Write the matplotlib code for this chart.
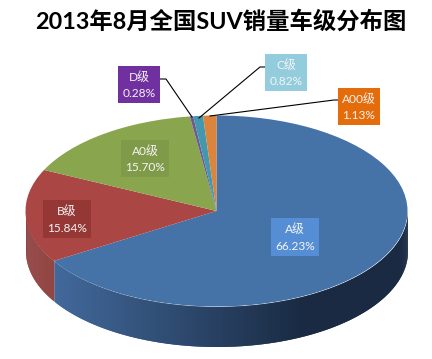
import numpy as np
import matplotlib
matplotlib.use("Agg")
import matplotlib.pyplot as plt
from matplotlib.patches import Rectangle

categories = ["A级", "B级", "A0级", "D级", "C级", "A00级"]
shares = [66.23, 15.84, 15.70, 0.28, 0.82, 1.13]
tick_labels = ["66.23%", "15.84%", "15.70%", "0.28%", "0.82%", "1.13%"]
title = "2013年8月全国SUV销量车级分布图"

top_colors = ["#4572A7", "#AA4643", "#89A54E", "#71588F", "#4198AF", "#DB843D"]
box_colors = ["#558ED5", "#953735", "#7F9A48", "#7030A0", "#93CDDD", "#E46C0A"]
# box left, top, right, bottom in image pixels
boxes = [(271, 218, 319, 256), (43, 200, 91, 238), (121, 140, 169, 177),
         (118, 66, 160, 103), (265, 54, 307, 91), (338, 88, 380, 125)]
leaders = {
    3: [(160, 79), (166, 79), (192, 117)],
    4: [(265, 67), (260, 67), (199, 118)],
    5: [(338, 100), (334, 100), (210, 116)],
}

W, H = 432, 359
CX, CY, RX, RY, DEPTH = 216.5, 211.0, 191.0, 95.5, 40.0

plt.rcParams["font.family"] = ["Lato", "Noto Sans CJK SC", "DejaVu Sans"]

fig = plt.figure(figsize=(W / 100, H / 100), dpi=100)
ax = fig.add_axes([0, 0, 1, 1])
ax.pie(shares, colors=top_colors, startangle=90, counterclock=False, radius=1.0)
ax.set_aspect("auto")
ax.set_xlim(-CX / RX, (W - CX) / RX)
ax.set_ylim((CY - H) / RY, CY / RY)
ax.axis("off")


def px(x, y):
    return (x - CX) / RX, (CY - y) / RY


# side wall: overlapping strips, shaded left to right
blue_l, blue_r = np.array([66, 105, 155]), np.array([25, 42, 66])
red_l, red_r = np.array([140, 58, 56]), np.array([140, 58, 56])
edges = 90 - np.cumsum([0] + shares) * 3.6
depth = DEPTH / RY
for start, stop, c_l, c_r in [(0, edges[1], blue_l, blue_r),
                              (edges[1], -180, red_l, red_r)]:
    angles = np.radians(np.linspace(start, stop, 200))
    # paint from the far end back so every strip covers the seam of the last one
    for a0, a1 in zip(angles[:-2], angles[2:]):
        xs = np.cos(np.linspace(a0, a1, 3))
        ys = np.sin(np.linspace(a0, a1, 3))
        t = np.clip((xs.mean() + 0.85) / 1.3, 0, 1)
        col = (c_l + (c_r - c_l) * t) / 255
        ax.fill_between(xs, ys, ys - depth, color=col, linewidth=0, zorder=0.5)

for idx, pts in leaders.items():
    pp = [px(*p) for p in pts]
    ax.plot([p[0] for p in pp], [p[1] for p in pp], color="black", lw=0.8, zorder=3)

for cat, lab, box, col in zip(categories, tick_labels, boxes, box_colors):
    l, t, r, b = box
    x0, y1 = px(l, t)
    x1, y0 = px(r, b)
    ax.add_patch(Rectangle((x0, y0), x1 - x0, y1 - y0, facecolor=col, edgecolor="none", zorder=4))
    xm = (x0 + x1) / 2
    ax.text(xm, y0 + (y1 - y0) * 0.71, cat, color="#f4f4f4", fontsize=8.6, ha="center", va="center", zorder=5)
    ax.text(xm, y0 + (y1 - y0) * 0.26, lab, color="#f4f4f4", fontsize=8.6, ha="center", va="center", zorder=5)

fig.text(221 / W, 1 - 21 / H, title, fontsize=16.8, fontweight="bold", color="black", ha="center", va="center")

fig.savefig("out.png", dpi=100)
